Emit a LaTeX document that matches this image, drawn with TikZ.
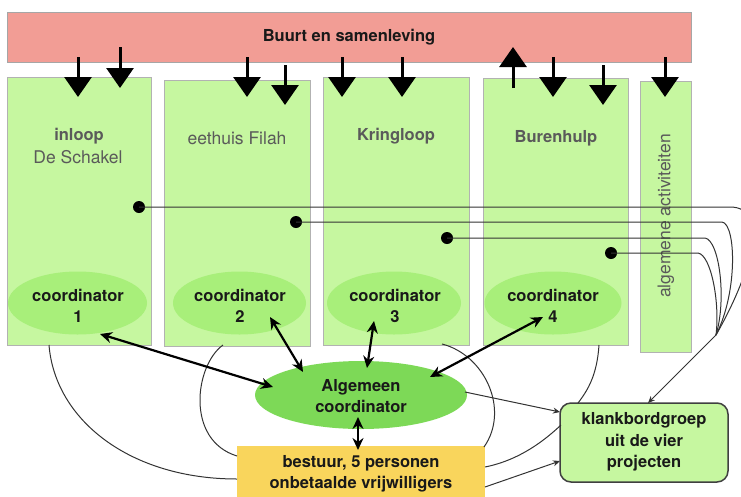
\documentclass[tikz,border=0pt]{standalone}
\usepackage{fontspec}
\setmainfont{TeX Gyre Heros}
\usetikzlibrary{arrows.meta,shapes.geometric}
\definecolor{barpink}{HTML}{F29D95}
\definecolor{boxgreen}{HTML}{C6F7A0}
\definecolor{ellgreen}{HTML}{A8EF7A}
\definecolor{algreen}{HTML}{7DD957}
\definecolor{bestyellow}{HTML}{F9D55C}
\definecolor{labelgray}{HTML}{5A5A5A}
\begin{document}
\begin{tikzpicture}[x=1pt,y=-1pt,
  gbox/.style={draw=black!30, line width=0.8pt, fill=boxgreen, inner sep=0},
  coordell/.style={ellipse, fill=ellgreen, inner sep=0, minimum height=63pt},
  lblreg/.style={text=labelgray, font=\fontsize{17.5}{21}\selectfont},
  lblbold/.style={text=labelgray, font=\bfseries\fontsize{16.5}{21}\selectfont},
  bl/.style={font=\bfseries\fontsize{16.5}{21.5}\selectfont, align=center, text=black!90},
  bigarrow/.style={line width=3pt, -{Triangle[length=20pt,width=27pt]}},
  dbl/.style={line width=2.2pt, {Stealth[length=12pt,width=11pt]}-{Stealth[length=12pt,width=11pt]}},
  thinline/.style={line width=1pt, draw=black!80},
  thinarrow/.style={thinline, -{Stealth[length=7pt,width=6pt]}},
  dotnode/.style={circle, fill=black, inner sep=0, minimum size=12pt},
]
\useasboundingbox (0,0) rectangle (741,496);

% top bar
\node[draw=black!35, fill=barpink, minimum width=684pt, minimum height=50pt, inner sep=0, bl] (bar) at (349,37) {Buurt en samenleving};

% project boxes
\node[gbox, minimum width=144pt, minimum height=268pt] (b1) at (79,211) {};
\node[gbox, minimum width=146pt, minimum height=266pt] (b2) at (237,213) {};
\node[gbox, minimum width=146pt, minimum height=268pt] (b3) at (396,211) {};
\node[gbox, minimum width=145pt, minimum height=267pt] (b4) at (555.5,211.5) {};
\node[gbox, minimum width=51pt, minimum height=271pt] (b5) at (665.5,216.5) {};

\node[lblbold] (t1a) at (79,136) {inloop};
\node[lblreg] (t1b) at (78,157) {De Schakel};
\node[lblreg] (t2) at (237,138) {eethuis Filah};
\node[lblbold] (t3) at (396,136) {Kringloop};
\node[lblbold] (t4) at (556,138) {Burenhulp};
\node[lblreg, rotate=90] (t5) at (666,216) {algemene activiteiten};

% coordinator ellipses
\node[coordell, minimum width=139pt] (c1) at (77.5,303) {};
\node[coordell, minimum width=133pt] (c2) at (239.5,303) {};
\node[coordell, minimum width=134pt] (c3) at (394,303) {};
\node[coordell, minimum width=137pt] (c4) at (553,303) {};
\node[bl] (c1t) at (78,306) {coordinator\\1};
\node[bl] (c2t) at (240,306) {coordinator\\2};
\node[bl] (c3t) at (395,306) {coordinator\\3};
\node[bl] (c4t) at (553,306) {coordinator\\4};

% central nodes
\node[ellipse, fill=algreen, inner sep=0, minimum width=212pt, minimum height=68pt] (alg) at (361,395) {};
\node[bl] (algt) at (361,396) {Algemeen\\coordinator};
\node[fill=bestyellow, inner sep=0, minimum width=248pt, minimum height=54pt] (best) at (361,473) {};
\node[bl] (bestt) at (361,474) {bestuur, 5 personen\\onbetaalde vrijwilligers};
\node[draw=black!75, line width=1.5pt, rounded corners=11pt, fill=boxgreen, minimum width=168pt, minimum height=79pt, inner sep=0] (klank) at (644,442.5) {};
\node[bl] (klankt) at (644,442) {klankbordgroep\\uit de vier\\projecten};

% arrows from bar
\foreach \x/\a/\b in {78/57/97, 120/47/88, 247/57/97, 285/65/105, 342/57/97, 402/57/97, 553/57/97, 603/65/105, 665/57/97}
  \draw[bigarrow] (\x,\a) -- (\x,\b);
\draw[bigarrow] (513,88) -- (513,47);

% dots and lines to klankbordgroep
\node[dotnode] (d1) at (139,207) {};
\node[dotnode] (d2) at (296,222) {};
\node[dotnode] (d3) at (447,238) {};
\node[dotnode] (d4) at (611,253) {};
\coordinate (jn) at (716,335);
\draw[thinline] (d1.center) -- (730,207) .. controls (770,207) and (752,272) .. (jn);
\draw[thinline] (d2.center) -- (722,222) .. controls (736,224) and (738,292) .. (jn);
\draw[thinline] (d3.center) -- (705,238) .. controls (719,240) and (727,298) .. (jn);
\draw[thinline] (d4.center) -- (698,253) .. controls (711,255) and (720,302) .. (jn);
\draw[thinarrow] (jn) -- (648,403);

% thin curves
\draw[thinline] (49,345) .. controls (55,420) and (130,479) .. (237,479);
\draw[thinline] (223,345) .. controls (195,365) and (185,440) .. (237,456);
\draw[thinline] (442,344) .. controls (485,355) and (510,410) .. (484,447);
\draw[thinline] (599,345) .. controls (597,375) and (588,390) .. (578,403);
\draw[thinarrow] (465,392) -- (560,412);
\draw[thinline] (485,467) .. controls (520,460) and (545,440) .. (561,425);
\draw[thinarrow] (485,487) -- (560,461);

% coordinator arrows
\draw[dbl] (100,334) -- (273,387);
\draw[dbl] (270,317) -- (303,372);
\draw[dbl] (374,321) -- (367,368);
\draw[dbl] (543,317) -- (430,377);
\draw[dbl] (358,417) -- (358,450);
\end{tikzpicture}
\end{document}
